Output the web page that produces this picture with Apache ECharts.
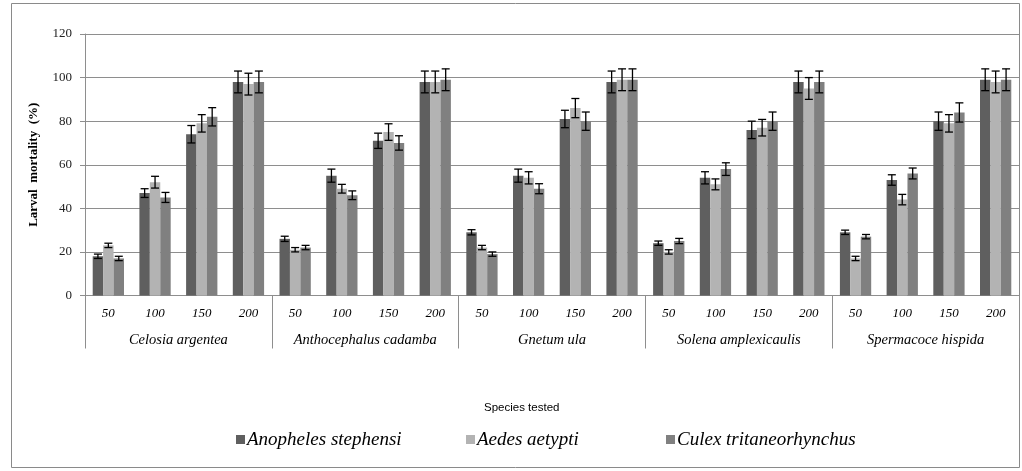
<!DOCTYPE html>
<html>
<head>
<meta charset="utf-8">
<script src="https://cdn.jsdelivr.net/npm/echarts@6/dist/echarts.min.js"></script>
<style>html,body{margin:0;padding:0;background:#fff;}#c{width:1022px;height:471px;}</style>
</head>
<body>
<div id="c"></div>
<script>
const species = ['Celosia argentea','Anthocephalus cadamba','Gnetum ula','Solena amplexicaulis','Spermacoce hispida'];
const doses = ['50','100','150','200'];
const seriesNames = ['Anopheles stephensi','Aedes aetypti','Culex tritaneorhynchus'];
const yTicks = [0,20,40,60,80,100,120];

const anopheles = [18,47,74,98, 26,55,71,98, 29,55,81,98, 24,54,76,98, 29,53,80,99];
const aedes     = [23,52,79,97, 21,49,75,98, 22,54,86,99, 20,51,77,95, 17,44,79,98];
const culex     = [17,45,82,98, 22,46,70,99, 19,49,80,99, 25,58,80,98, 27,56,84,99];

const anophelesErr = [1,2,4,5, 1.2,3,3.5,5, 1.2,3,4,5, 1,2.8,4,5, 1,2.4,4.2,5];
const aedesErr     = [1,2.7,4,5, 1,2,3.8,5, 1,2.8,4.4,5, 1,2.5,3.8,5, 1,2.4,4,5];
const culexErr     = [1,2.3,4.2,5, 1,2,3.3,5, 1,2.3,4.2,5, 1.2,2.9,4.2,5, 1,2.5,4.4,5];

const colors = ['#5f5f5f','#b3b3b3','#808080'];
const gridColor = '#8e8e8e';
const catGap = 0.33;

const categories = [];
species.forEach(() => doses.forEach(d => categories.push(d)));

const values = [anopheles, aedes, culex];
const errs = [anophelesErr, aedesErr, culexErr];

const chart = echarts.init(document.getElementById('c'), null, {renderer:'canvas'});

const barSeries = values.map((v, i) => ({
  name: seriesNames[i],
  type: 'bar',
  data: v,
  barGap: '0%',
  barCategoryGap: (catGap*100) + '%',
  itemStyle: { color: colors[i] },
  xAxisIndex: 0, yAxisIndex: 0
}));

const errSeries = values.map((v, si) => ({
  type: 'custom',
  name: 'err' + si,
  xAxisIndex: 0, yAxisIndex: 0,
  z: 10,
  encode: { x: 0, y: [1, 2] },
  data: v.map((val, i) => [i, val - errs[si][i], val + errs[si][i]]),
  renderItem: function (params, api) {
    const xi = api.value(0);
    const lo = api.coord([xi, api.value(1)]);
    const hi = api.coord([xi, api.value(2)]);
    const band = api.size([1, 0])[0];
    const bw = band * (1 - catGap) / 3;
    const cx = lo[0] + (si - 1) * bw;
    const cap = 4;
    const st = { stroke: '#000', lineWidth: 1.3 };
    return {
      type: 'group',
      children: [
        { type: 'line', shape: { x1: cx, y1: lo[1], x2: cx, y2: hi[1] }, style: st },
        { type: 'line', shape: { x1: cx - cap, y1: hi[1], x2: cx + cap, y2: hi[1] }, style: st },
        { type: 'line', shape: { x1: cx - cap, y1: lo[1], x2: cx + cap, y2: lo[1] }, style: st }
      ]
    };
  }
}));

function legendAt(name, left) {
  return {
    data: [name],
    left: left,
    top: 430,
    icon: 'rect',
    itemWidth: 9,
    itemHeight: 9,
    itemGap: 0,
    padding: 0,
    textStyle: { fontFamily: 'Liberation Serif', fontStyle: 'italic', fontSize: 19, color: '#000', padding: [0,0,0,-3] }
  };
}

chart.setOption({
  animation: false,
  backgroundColor: '#fff',
  grid: { left: 85, right: 3, top: 34, bottom: 175.5, containLabel: false },
  legend: [
    legendAt(seriesNames[0], 236),
    legendAt(seriesNames[1], 466),
    legendAt(seriesNames[2], 666)
  ],
  graphic: [
    { type: 'rect', shape: { x: 11.5, y: 3.5, width: 1008, height: 464 }, style: { fill: 'none', stroke: '#8a8a8a', lineWidth: 1 }, silent: true },
    { type: 'text', left: 484, top: 402, style: { text: 'Species tested', font: '11.5px "Liberation Sans"', fill: '#000' } }
  ],
  xAxis: [
    {
      type: 'category',
      data: categories,
      position: 'bottom',
      axisLine: { show: true, lineStyle: { color: gridColor, width: 1 } },
      axisTick: { show: false },
      axisLabel: { interval: 0, margin: 12, fontFamily: 'Liberation Serif', fontStyle: 'italic', fontSize: 13, color: '#000' }
    },
    {
      type: 'category',
      data: species,
      position: 'bottom',
      axisLine: { show: false },
      axisTick: { show: true, length: 53, interval: 0, lineStyle: { color: gridColor, width: 1 } },
      axisLabel: { interval: 0, margin: 37, fontFamily: 'Liberation Serif', fontStyle: 'italic', fontSize: 14.5, color: '#000' }
    }
  ],
  yAxis: {
    type: 'value',
    min: yTicks[0],
    max: yTicks[yTicks.length - 1],
    interval: 20,
    name: 'Larval  mortality  (%)',
    nameLocation: 'middle',
    nameGap: 45,
    nameTextStyle: { fontFamily: 'Liberation Serif', fontWeight: 'bold', fontSize: 13, color: '#000' },
    axisLine: { show: true, lineStyle: { color: gridColor, width: 1 } },
    axisTick: { show: true, length: 5, lineStyle: { color: gridColor } },
    axisLabel: { margin: 13, fontFamily: 'Liberation Serif', fontSize: 13, color: '#222' },
    splitLine: { show: true, lineStyle: { color: gridColor, width: 1 } }
  },
  series: barSeries.concat(errSeries)
});
</script>
</body>
</html>
